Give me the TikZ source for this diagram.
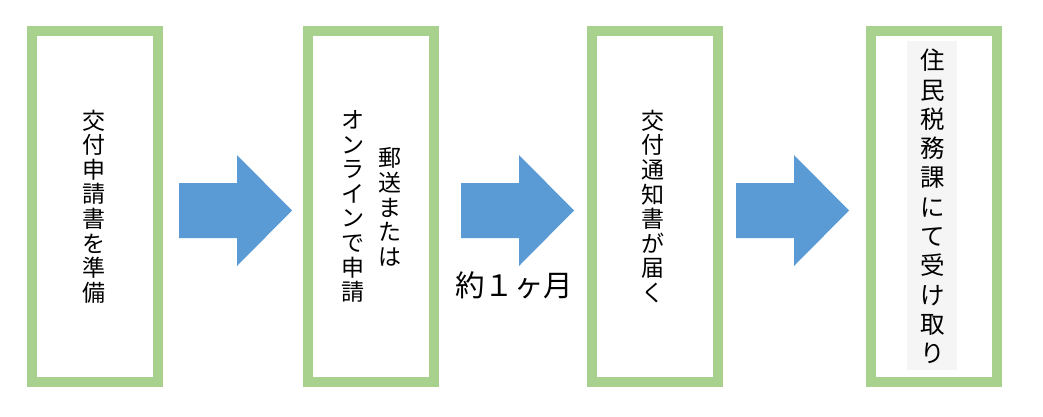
\documentclass[tikz,border=0pt]{standalone}
\usepackage{fontspec}
\newfontfamily\jp{Noto Sans CJK JP}
\definecolor{boxgreen}{HTML}{A9D18E}
\definecolor{arrowblue}{HTML}{5B9BD5}
\definecolor{labelgray}{HTML}{F5F5F5}
\tikzset{
  frame/.style={draw=boxgreen, line width=10pt, fill=white, minimum width=126pt, minimum height=351pt, inner sep=0pt},
  blockarrow/.style={fill=arrowblue, draw=none},
  vtext/.style={align=center, inner sep=0pt, font=\jp\fontsize{23}{24.6}\selectfont},
  vtextbig/.style={align=center, inner sep=0pt, font=\jp\fontsize{24.5}{29.3}\selectfont},
}
\begin{document}
\begin{tikzpicture}[x=1pt,y=-1pt]
\useasboundingbox (0,0) rectangle (1043,416);
% boxes
\node[frame] (b1) at (95,206.5) {};
\node[frame] (b2) at (371,206.5) {};
\node[frame] (b3) at (654.5,206.5) {};
\node[frame] (b4) at (934,206.5) {};
% block arrows (tail coordinate, then shape relative to it)
\coordinate (a1) at (179,210.5);
\coordinate (a2) at (461,210.5);
\coordinate (a3) at (736,210.5);
\foreach \a in {a1,a2,a3}{
  \fill[blockarrow] ([yshift=27.5pt]\a) -- ++(58,0) -- ++(0,-28) -- ++(55,55.5)
    -- ++(-55,55.5) -- ++(0,-28) -- ++(-58,0) -- cycle;
}
\node[font=\jp\fontsize{29.5}{30}\selectfont, inner sep=0pt] (lab) at (514,285) {約１ヶ月};
% texts
\node[vtext] (t1) at (94,206.5) {交\\付\\申\\請\\書\\を\\準\\備};
\node[vtext] (t2r) at (390,207) {郵\\送\\ま\\た\\は};
\node[vtext] (t2l) at (353,206.5) {オ\\ン\\ラ\\イ\\ン\\で\\申\\請};
\node[vtext] (t3) at (653,206.5) {交\\付\\通\\知\\書\\が\\届\\く};
\node[fill=labelgray, minimum width=50pt, minimum height=329pt, inner sep=0pt] (g4) at (932,205.5) {};
\node[vtextbig] (t4) at (933,206.5) {住\\民\\税\\務\\課\\に\\て\\受\\け\\取\\り};
\end{tikzpicture}
\end{document}
